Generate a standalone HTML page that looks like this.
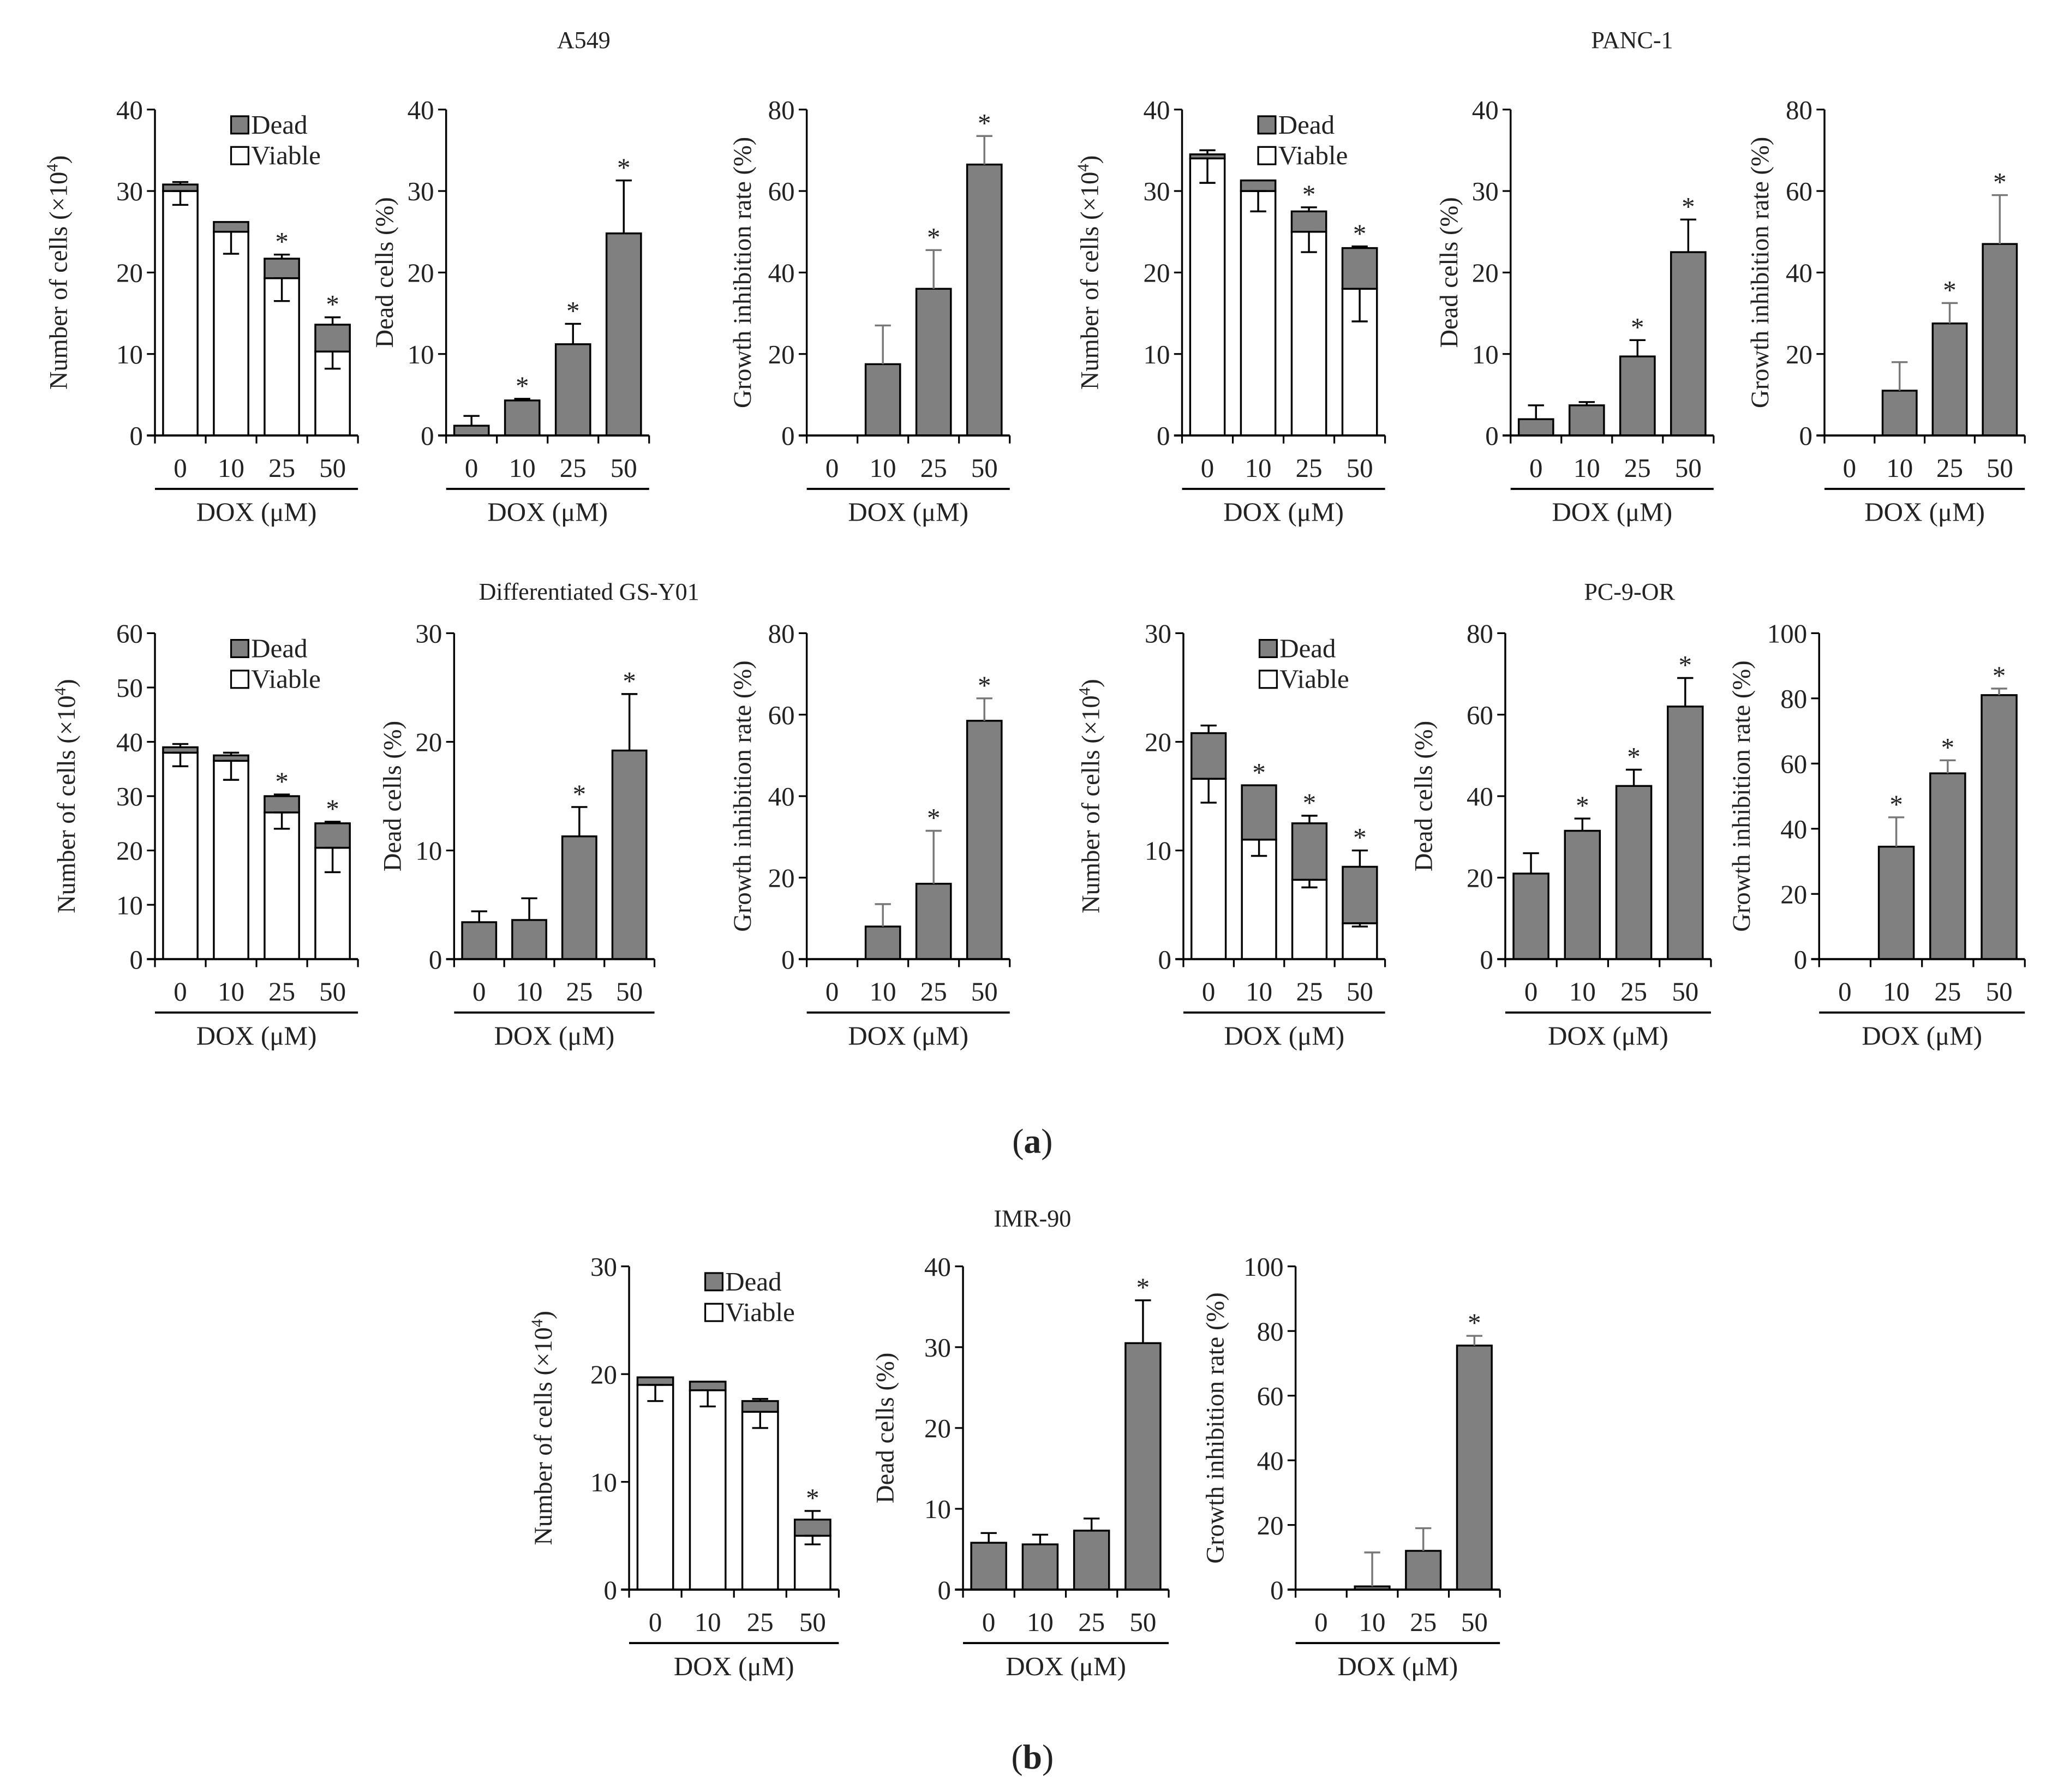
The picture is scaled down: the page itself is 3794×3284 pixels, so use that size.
<!DOCTYPE html>
<html><head><meta charset="utf-8"><style>
html,body{margin:0;padding:0;background:#fff;}
svg{display:block;}
text{font-family:"Liberation Serif",serif;fill:#222;}
</style></head><body>
<svg id="fig" width="3794" height="3284" viewBox="0 0 1549.8 1341.5" xmlns="http://www.w3.org/2000/svg">
<text x="437" y="36" font-size="18" text-anchor="middle">A549</text>
<text x="1222" y="36" font-size="18" text-anchor="middle">PANC-1</text>
<text x="441" y="449" font-size="18" text-anchor="middle">Differentiated GS-Y01</text>
<text x="1220" y="449" font-size="18" text-anchor="middle">PC-9-OR</text>
<text x="773" y="918" font-size="18" text-anchor="middle">IMR-90</text>
<text x="773" y="863" font-size="26" text-anchor="middle">(<tspan font-weight="bold">a</tspan>)</text>
<text x="773" y="1324" font-size="26" text-anchor="middle">(<tspan font-weight="bold">b</tspan>)</text>
</svg>
<script>
const categories = ["0","10","25","50"];
// stacked cell-count panels
const a549Viable=[30,25,19.3,10.3], a549Total=[30.8,26.2,21.7,13.6], a549ErrDown=[1.7,2.7,2.8,2.1], a549ErrUp=[0.3,0,0.5,0.9], a549Star=[0,0,1,1];
const pancViable=[34,30,25,18], pancTotal=[34.5,31.3,27.5,23], pancErrDown=[3,2.5,2.5,4], pancErrUp=[0.5,0,0.5,0.2], pancStar=[0,0,1,1];
const gsViable=[38,36.5,27,20.5], gsTotal=[39,37.5,30,25], gsErrDown=[2.5,3.5,3,4.5], gsErrUp=[0.6,0.5,0.3,0.3], gsStar=[0,0,1,1];
const pcViable=[16.6,11,7.3,3.3], pcTotal=[20.8,16,12.5,8.5], pcErrDown=[2.2,1.5,0.7,0.3], pcErrUp=[0.7,0,0.7,1.5], pcStar=[0,1,1,1];
const imrViable=[19,18.5,16.5,5], imrTotal=[19.7,19.3,17.5,6.5], imrErrDown=[1.5,1.5,1.5,0.8], imrErrUp=[0,0,0.2,0.8], imrStar=[0,0,0,1];
// dead cells (%)
const a549Dead=[1.2,4.3,11.2,24.8], a549DeadErr=[1.2,0.2,2.5,6.5], a549DeadStar=[0,1,1,1];
const pancDead=[2,3.7,9.7,22.5], pancDeadErr=[1.7,0.4,2,4], pancDeadStar=[0,0,1,1];
const gsDead=[3.4,3.6,11.3,19.2], gsDeadErr=[1,2,2.7,5.2], gsDeadStar=[0,0,1,1];
const pcDead=[21,31.5,42.5,62], pcDeadErr=[5,3,4,7], pcDeadStar=[0,1,1,1];
const imrDead=[5.8,5.6,7.3,30.5], imrDeadErr=[1.2,1.2,1.5,5.3], imrDeadStar=[0,0,0,1];
// growth inhibition (%)
const a549GI=[0,17.5,36,66.5], a549GIErr=[0,9.5,9.5,7], a549GIStar=[0,0,1,1];
const pancGI=[0,11,27.5,47], pancGIErr=[0,7,5,12], pancGIStar=[0,0,1,1];
const gsGI=[0,8,18.5,58.5], gsGIErr=[0,5.5,13,5.5], gsGIStar=[0,0,1,1];
const pcGI=[0,34.5,57,81], pcGIErr=[0,9,4,2], pcGIStar=[0,1,1,1];
const imrGI=[0,1,12,75.5], imrGIErr=[0,10.5,7,3], imrGIStar=[0,0,0,1];
const ticks40=[0,10,20,30,40], ticks80=[0,20,40,60,80], ticks60=[0,10,20,30,40,50,60], ticks30=[0,10,20,30], ticks100=[0,20,40,60,80,100];

const svg=document.getElementById('fig');
const NS='http://www.w3.org/2000/svg';
function mk(tag,attrs,parent){const e=document.createElementNS(NS,tag);for(const k in attrs)e.setAttribute(k,attrs[k]);(parent||svg).appendChild(e);return e;}
const FS=20;
function panel(o){
  const g=mk('g',{});
  
  
  const max=o.ticks[o.ticks.length-1];
  const yS=v=>o.base-(v/max)*(o.base-o.top);
  const band=(o.x1-o.x0)/categories.length;
  const xC=i=>o.x0+band*(i+0.5);
  const bw=band*0.68;
  const tcol=o.gray?'#777':'#222';
  const ya=mk('line',{x1:o.x0,y1:o.top,x2:o.x0,y2:o.base,stroke:'#000','stroke-width':1.4},g);
  
  o.ticks.forEach(t=>{
    mk('line',{x1:o.x0-6,y1:yS(t),x2:o.x0,y2:yS(t),stroke:'#000','stroke-width':1.3},g);
    const tx=mk('text',{x:o.x0-9,y:yS(t)+7,'font-size':FS,'text-anchor':'end',fill:tcol},g);
    tx.textContent=t;
    
  });
  categories.forEach((c,i)=>{
    const cx=xC(i);
    if(o.viable){
      const vb=mk('rect',{x:cx-bw/2,y:yS(o.viable[i]),width:bw,height:o.base-yS(o.viable[i]),fill:'#fff',stroke:'#000','stroke-width':1.4},g);
      
      const db=mk('rect',{x:cx-bw/2,y:yS(o.total[i]),width:bw,height:yS(o.viable[i])-yS(o.total[i]),fill:'#808080',stroke:'#000','stroke-width':1.4},g);
      
      const lo=o.viable[i]-o.errDown[i];
      mk('line',{x1:cx,y1:yS(o.viable[i]),x2:cx,y2:yS(lo),stroke:'#000','stroke-width':1.4},g);
      mk('line',{x1:cx-6,y1:yS(lo),x2:cx+6,y2:yS(lo),stroke:'#000','stroke-width':1.4},g);
      mk('line',{x1:cx-6,y1:yS(o.viable[i]),x2:cx+6,y2:yS(o.viable[i]),stroke:'#000','stroke-width':1.4},g);
      if(o.errUp[i]>0){const hi=o.total[i]+o.errUp[i];
        mk('line',{x1:cx,y1:yS(o.total[i]),x2:cx,y2:yS(hi),stroke:'#000','stroke-width':1.4},g);
        mk('line',{x1:cx-6,y1:yS(hi),x2:cx+6,y2:yS(hi),stroke:'#000','stroke-width':1.4},g);}
      if(o.star[i]){const s=mk('text',{x:cx,y:yS(o.total[i]+o.errUp[i])-3,'font-size':FS,'text-anchor':'middle'},g);s.textContent='*';
        }
    } else {
      const v=o.vals[i];
      if(v>0){
        const b=mk('rect',{x:cx-bw/2,y:yS(v),width:bw,height:o.base-yS(v),fill:'#808080',stroke:'#000','stroke-width':1.4},g);
        
      }
      const ec=o.gray?'#777':'#000';
      if(o.err[i]>0){const hi=v+o.err[i];
        mk('line',{x1:cx,y1:yS(v),x2:cx,y2:yS(hi),stroke:ec,'stroke-width':1.4},g);
        mk('line',{x1:cx-6,y1:yS(hi),x2:cx+6,y2:yS(hi),stroke:ec,'stroke-width':1.4},g);}
      if(o.star[i]){const s=mk('text',{x:cx,y:yS(v+o.err[i])-3,'font-size':FS,'text-anchor':'middle'},g);s.textContent='*';
        }
    }
    const cl=mk('text',{x:cx,y:o.base+31,'font-size':FS,'text-anchor':'middle'},g);cl.textContent=c;
    
  });
  const xa=mk('line',{x1:o.x0-6,y1:o.base,x2:o.x1,y2:o.base,stroke:'#000','stroke-width':1.6},g);
  
  for(let i=0;i<=categories.length;i++){const x=o.x0+band*i;mk('line',{x1:x,y1:o.base,x2:x,y2:o.base+6,stroke:'#000','stroke-width':1.3},g);}
  mk('line',{x1:o.x0,y1:o.base+40,x2:o.x1,y2:o.base+40,stroke:'#000','stroke-width':1.6},g);
  const xt=mk('text',{x:(o.x0+o.x1)/2,y:o.base+64,'font-size':FS,'text-anchor':'middle'},g);xt.textContent='DOX (μM)';
  
  const ty=(o.top+o.base)/2, tx=o.x0-o.tOff;
  const yt=mk('text',{x:tx,y:ty,'font-size':19,'text-anchor':'middle',transform:`rotate(-90 ${tx} ${ty})`},g);
  if(o.viable){yt.innerHTML='Number of cells (×10<tspan dy="-7" font-size="12">4</tspan><tspan dy="7">)</tspan>';}
  else yt.textContent=o.ytitle;
  
  if(o.viable){
    const lx=o.x0+57, ly=o.top+5;
    const l1=mk('rect',{x:lx,y:ly,width:13,height:13,fill:'#808080',stroke:'#000','stroke-width':1.3},g);
    
    const t1=mk('text',{x:lx+15,y:ly+13,'font-size':FS},g);t1.textContent='Dead';
    
    const l2=mk('rect',{x:lx,y:ly+23,width:13,height:13,fill:'#fff',stroke:'#000','stroke-width':1.3},g);
    
    const t2=mk('text',{x:lx+15,y:ly+36,'font-size':FS},g);t2.textContent='Viable';
    
  }
}
const R1={top:82,base:326}, R2={top:474,base:718}, R3={top:948,base:1190};
panel({name:'a549-cell-count',...R1,x0:116,x1:268,ticks:ticks40,viable:a549Viable,total:a549Total,errDown:a549ErrDown,errUp:a549ErrUp,star:a549Star,tOff:66});
panel({name:'a549-dead-cells',...R1,x0:334,x1:486,ticks:ticks40,vals:a549Dead,err:a549DeadErr,star:a549DeadStar,ytitle:'Dead cells (%)',tOff:40});
panel({name:'a549-growth-inhibition',...R1,x0:604,x1:756,ticks:ticks80,vals:a549GI,err:a549GIErr,star:a549GIStar,ytitle:'Growth inhibition rate (%)',tOff:42,gray:true});
panel({name:'panc1-cell-count',...R1,x0:885,x1:1037,ticks:ticks40,viable:pancViable,total:pancTotal,errDown:pancErrDown,errUp:pancErrUp,star:pancStar,tOff:63});
panel({name:'panc1-dead-cells',...R1,x0:1131,x1:1283,ticks:ticks40,vals:pancDead,err:pancDeadErr,star:pancDeadStar,ytitle:'Dead cells (%)',tOff:40});
panel({name:'panc1-growth-inhibition',...R1,x0:1366,x1:1516,ticks:ticks80,vals:pancGI,err:pancGIErr,star:pancGIStar,ytitle:'Growth inhibition rate (%)',tOff:42,gray:true});
panel({name:'gsy01-cell-count',...R2,x0:116,x1:268,ticks:ticks60,viable:gsViable,total:gsTotal,errDown:gsErrDown,errUp:gsErrUp,star:gsStar,tOff:60});
panel({name:'gsy01-dead-cells',...R2,x0:340,x1:490,ticks:ticks30,vals:gsDead,err:gsDeadErr,star:gsDeadStar,ytitle:'Dead cells (%)',tOff:40});
panel({name:'gsy01-growth-inhibition',...R2,x0:604,x1:756,ticks:ticks80,vals:gsGI,err:gsGIErr,star:gsGIStar,ytitle:'Growth inhibition rate (%)',tOff:42,gray:true});
panel({name:'pc9or-cell-count',...R2,x0:886,x1:1037,ticks:ticks30,viable:pcViable,total:pcTotal,errDown:pcErrDown,errUp:pcErrUp,star:pcStar,tOff:63});
panel({name:'pc9or-dead-cells',...R2,x0:1127,x1:1281,ticks:ticks80,vals:pcDead,err:pcDeadErr,star:pcDeadStar,ytitle:'Dead cells (%)',tOff:55});
panel({name:'pc9or-growth-inhibition',...R2,x0:1362,x1:1516,ticks:ticks100,vals:pcGI,err:pcGIErr,star:pcGIStar,ytitle:'Growth inhibition rate (%)',tOff:52,gray:true});
panel({name:'imr90-cell-count',...R3,x0:471,x1:628,ticks:ticks30,viable:imrViable,total:imrTotal,errDown:imrErrDown,errUp:imrErrUp,star:imrStar,tOff:58});
panel({name:'imr90-dead-cells',...R3,x0:721,x1:875,ticks:ticks40,vals:imrDead,err:imrDeadErr,star:imrDeadStar,ytitle:'Dead cells (%)',tOff:52});
panel({name:'imr90-growth-inhibition',...R3,x0:970,x1:1123,ticks:ticks100,vals:imrGI,err:imrGIErr,star:imrGIStar,ytitle:'Growth inhibition rate (%)',tOff:54,gray:true});
</script>
</body></html>
